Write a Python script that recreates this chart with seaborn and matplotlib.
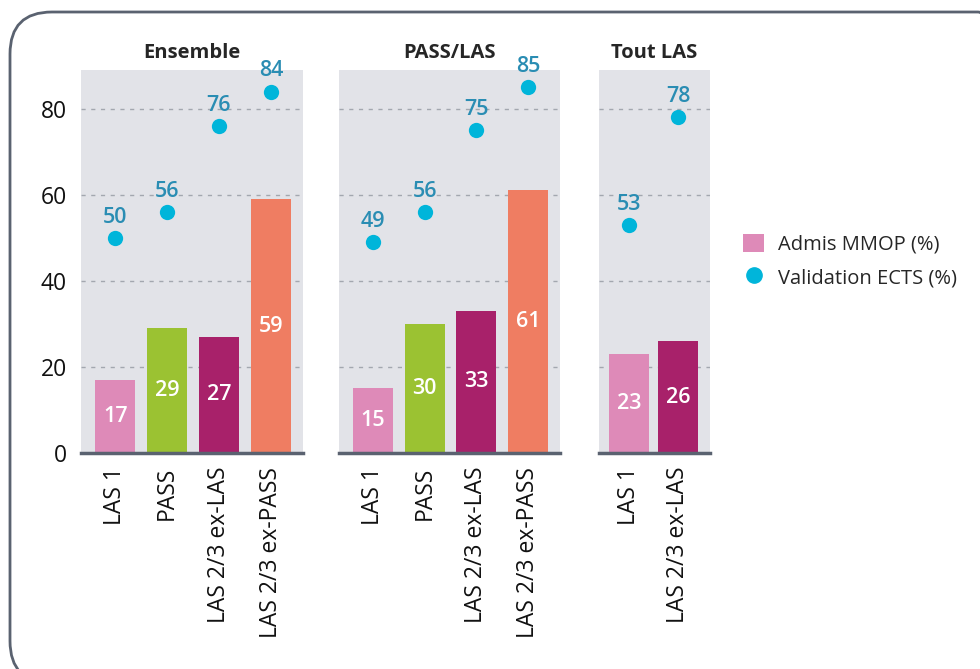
import pandas as pd
import matplotlib.pyplot as plt
import seaborn as sns
from matplotlib.patches import FancyBboxPatch, Patch
from matplotlib.lines import Line2D

# donnees
titres = ["Ensemble", "PASS/LAS", "Tout LAS"]

cats_ensemble = ["LAS 1", "PASS", "LAS 2/3 ex-LAS", "LAS 2/3 ex-PASS"]
mmop_ensemble = [17, 29, 27, 59]
ects_ensemble = [50, 56, 76, 84]

cats_pass_las = ["LAS 1", "PASS", "LAS 2/3 ex-LAS", "LAS 2/3 ex-PASS"]
mmop_pass_las = [15, 30, 33, 61]
ects_pass_las = [49, 56, 75, 85]

cats_tout_las = ["LAS 1", "LAS 2/3 ex-LAS"]
mmop_tout_las = [23, 26]
ects_tout_las = [53, 78]

couleurs = {
    "LAS 1": "#DE8AB8",
    "PASS": "#9BC232",
    "LAS 2/3 ex-LAS": "#A8216A",
    "LAS 2/3 ex-PASS": "#EF7D62",
}
cyan = "#00B5DA"
cyan_texte = "#2A8DB3"
gris_fond = "#E2E3E8"
gris_ligne = "#5A6270"

sns.set_theme(style="white")
plt.rcParams['font.family'] = ['Open Sans', 'DejaVu Sans']

fig = plt.figure(figsize=(9.8, 6.69), dpi=100)
W, H = 980, 669

# cadre arrondi (en pouces), il deborde a droite et en bas
cadre = FancyBboxPatch((0.10, -0.14), 10.1, 6.71,
                       boxstyle="round,pad=0,rounding_size=0.42",
                       transform=fig.dpi_scale_trans, fill=False,
                       edgecolor=gris_ligne, linewidth=2)
fig.patches.append(cadre)

# cats, valeurs, position gauche/largeur (px), limites x, largeur barres
panneaux = [
    (cats_ensemble, mmop_ensemble, ects_ensemble, 81, 222, (-0.66, 3.62), 0.77),
    (cats_pass_las, mmop_pass_las, ects_pass_las, 339, 221, (-0.66, 3.62), 0.77),
    (cats_tout_las, mmop_tout_las, ects_tout_las, 599, 111, (-0.61, 1.65), 0.82),
]

bas, haut = 453, 70
for k, (cats, mmop, ects, x0, larg, xlim, lb) in enumerate(panneaux):
    ax = fig.add_axes([x0 / W, 1 - bas / H, larg / W, (bas - haut) / H])
    df = pd.DataFrame({"cat": cats, "mmop": mmop, "ects": ects})
    ax.set_facecolor(gris_fond)
    for y in [20, 40, 60, 80]:
        ax.axhline(y, color="#A3A7AF", lw=1, ls=(0, (3, 4)), zorder=0)
    sns.barplot(data=df, x="cat", y="mmop", hue="cat", palette=couleurs,
                order=cats, legend=False, width=lb, saturation=1,
                linewidth=0, ax=ax, zorder=2)
    sns.stripplot(data=df, x="cat", y="ects", order=cats, jitter=False,
                  color=cyan, size=11, linewidth=0, ax=ax, zorder=3)
    for i, (m, e) in enumerate(zip(mmop, ects)):
        ax.text(i, m / 2, str(m), ha="center", va="center", color="white",
                fontsize=15.5, fontweight="semibold", zorder=4)
        ax.text(i, e + 4.8, str(e), ha="center", va="center", color=cyan_texte,
                fontsize=15.5, fontweight="semibold", zorder=4)
    ax.set_ylim(0, 89)
    ax.set_xlim(*xlim)
    ax.set_xlabel("")
    ax.set_ylabel("")
    ax.set_title(titres[k], fontsize=14.5, fontweight="bold", pad=9)
    ax.tick_params(axis="x", labelrotation=90, labelsize=16.5, length=0, pad=10)
    for lab in ax.get_xticklabels():
        lab.set_color("#111111")
    for s in ["top", "right", "left"]:
        ax.spines[s].set_visible(False)
    ax.spines["bottom"].set_color(gris_ligne)
    ax.spines["bottom"].set_linewidth(2.5)
    ax.set_yticks([0, 20, 40, 60, 80])
    if k == 0:
        ax.tick_params(axis="y", labelsize=16.5, length=0, pad=10)
        for lab in ax.get_yticklabels():
            lab.set_color("#111111")
    else:
        ax.tick_params(axis="y", left=False, labelleft=False)

poignees = [
    Patch(facecolor=couleurs["LAS 1"], edgecolor="none"),
    Line2D([], [], marker="o", ls="none", color=cyan, markersize=11),
]
fig.legend(poignees, ["Admis MMOP (%)", "Validation ECTS (%)"],
           loc="center left", bbox_to_anchor=(725 / W, 1 - 261 / H),
           frameon=False, fontsize=14.5, handlelength=1.05, handleheight=1.05,
           labelspacing=0.6, handletextpad=0.7)

fig.savefig("out.png", dpi=100)
